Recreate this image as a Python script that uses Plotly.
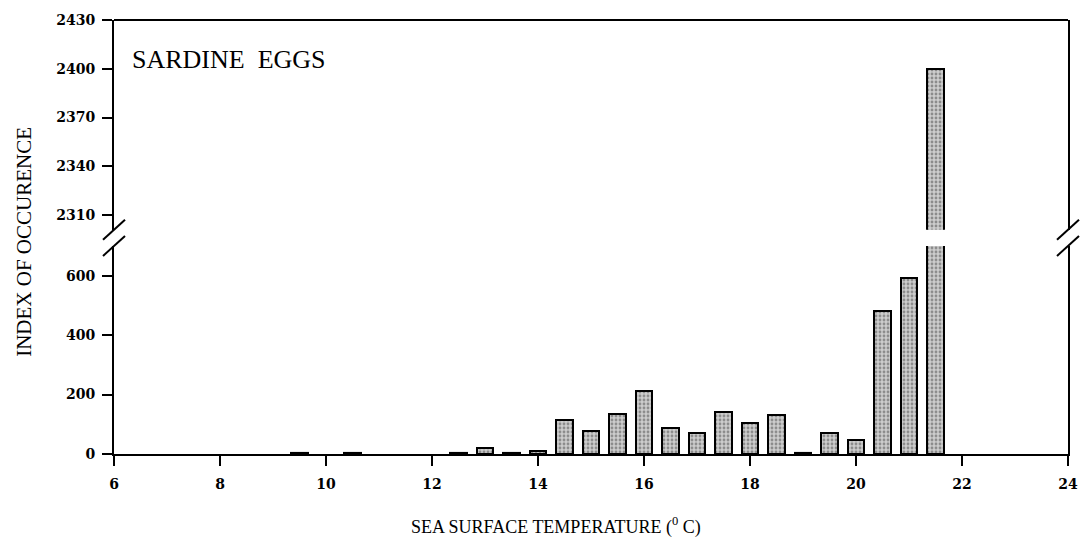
import plotly.graph_objects as go

# Sea surface temperature classes (deg C) and index of occurrence of sardine eggs
temperature = [9.5, 10.5, 12.5, 13.0, 13.5, 14.0, 14.5, 15.0, 15.5, 16.0, 16.5,
               17.0, 17.5, 18.0, 18.5, 19.0, 19.5, 20.0, 20.5, 21.0, 21.5]
occurrence = [2, 2, 4, 21, 3, 10, 114, 77, 136, 211, 88,
              70, 141, 104, 133, 3, 71, 46, 481, 594, 2400]

x_ticks = [6, 8, 10, 12, 14, 16, 18, 20, 22, 24]
low_ticks = [0, 200, 400, 600]
high_ticks = [2310, 2340, 2370, 2400, 2430]

W, H = 1090, 542
L, R, T, B = 114, 1077, 16, 454          # plot area in pixels
PW, PH = R - L, B - T


def px(p):
    return (p - L) / PW


def py(p):
    return (B - p) / PH


upper_dom = [1 - 211.7 / PH, 1.0]
lower_dom = [0.0, 210.0 / PH]

serif = "Liberation Serif, Times New Roman, serif"

bar_style = dict(
    color="#c8c8c8",
    line=dict(color="black", width=2),
    pattern=dict(shape=".", fgcolor="#4a4a4a", bgcolor="#cdcdcd",
                 size=4, solidity=0.4),
)

fig = go.Figure()
for ax in ("y", "y2"):
    fig.add_trace(go.Bar(
        x=temperature, y=occurrence, width=0.31,
        marker=bar_style, xaxis="x", yaxis=ax, showlegend=False,
        hoverinfo="x+y",
    ))

tick_font = dict(family="DejaVu Serif, serif", size=14, color="black", weight="bold")
axis_common = dict(
    showline=True, linecolor="black", linewidth=2,
    ticks="outside", ticklen=10, tickwidth=1.5, tickcolor="black",
    tickfont=tick_font, showgrid=False, zeroline=False,
)

fig.update_layout(
    width=W, height=H,
    margin=dict(l=L, r=W - R, t=T, b=H - B),
    paper_bgcolor="white", plot_bgcolor="white",
    bargap=0,
    xaxis=dict(range=[6, 24], tickvals=x_ticks, anchor="y",
               ticklabelstandoff=6, **axis_common),
    yaxis=dict(domain=lower_dom, range=[0, 700], tickvals=low_ticks,
               mirror=True, ticklabelstandoff=4, **axis_common),
    yaxis2=dict(domain=upper_dom, range=[2301, 2430], tickvals=high_ticks,
                mirror=True, anchor="x", ticklabelstandoff=4, **axis_common),
)

# top border of the upper panel
shapes = [dict(type="line", xref="paper", yref="paper", x0=0, x1=1, y0=1, y1=1,
               line=dict(color="black", width=2))]

# axis-break marks on both sides
for xa in (0, 1):
    for ya in (upper_dom[0], lower_dom[1]):
        shapes.append(dict(
            type="line", xref="paper", yref="paper",
            xsizemode="pixel", xanchor=xa, x0=-11, x1=11,
            ysizemode="pixel", yanchor=ya, y0=-10, y1=10,
            line=dict(color="black", width=2),
        ))
fig.update_layout(shapes=shapes)

fig.add_annotation(text="SARDINE\u00a0 EGGS", xref="paper", yref="paper",
                   x=px(130), y=py(56), xanchor="left", yanchor="middle",
                   showarrow=False, font=dict(family=serif, size=26, color="black"))

fig.add_annotation(text="SEA SURFACE TEMPERATURE (<sup>0</sup> C)",
                   xref="paper", yref="paper", x=px(560), y=py(527),
                   xanchor="center", yanchor="middle", showarrow=False,
                   font=dict(family=serif, size=18, color="black"))

fig.add_annotation(text="INDEX OF OCCURENCE", textangle=-90,
                   xref="paper", yref="paper", x=px(23), y=py(240),
                   xanchor="center", yanchor="middle", showarrow=False,
                   font=dict(family=serif, size=21, color="black"))

fig.write_html("out.html")
